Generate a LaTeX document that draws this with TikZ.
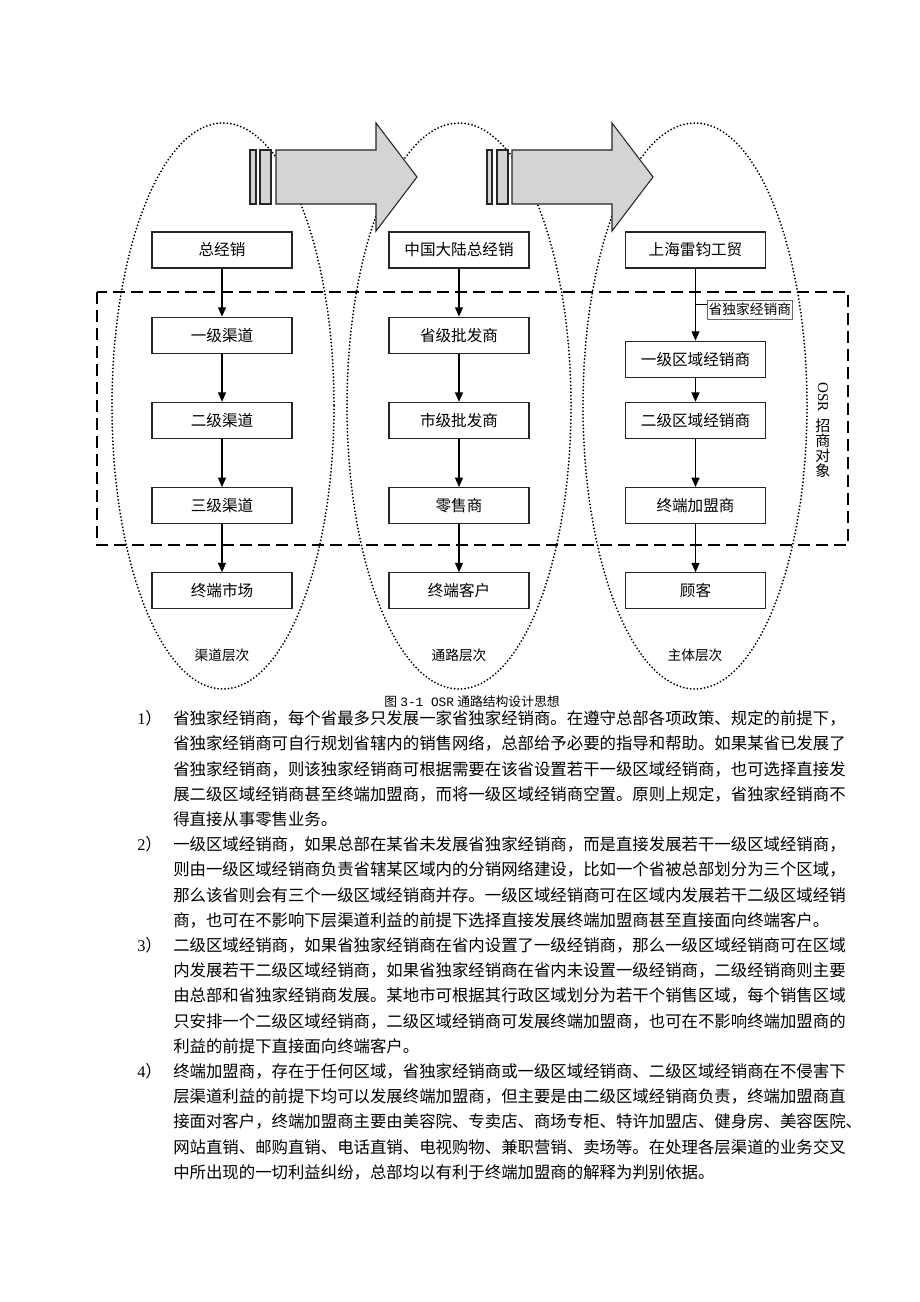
\documentclass[tikz,border=0pt]{standalone}
\usepackage{fontspec}
\setmainfont{Liberation Serif}
\newfontfamily\cjk{Noto Sans CJK SC}
\newfontfamily\latmono{Liberation Mono}
\usetikzlibrary{positioning,arrows.meta}

\begin{document}
\begin{tikzpicture}[x=0.75pt,y=-0.75pt,node distance=36pt,
  box/.style={draw=black!85,line width=0.9pt,fill=white,minimum width=105pt,minimum height=27pt,inner sep=0pt,font=\cjk\fontsize{11.7pt}{14pt}\selectfont},
  link/.style={line width=0.9pt,-{Triangle[length=7pt,width=6pt]}},
  layer/.style={line width=1.5pt,line cap=round,dash pattern=on 0pt off 2.6pt},
  bigarrow/.style={draw=black!85,line width=0.8pt,fill=black!17},
  para/.style={anchor=north west,align=left,inner sep=0pt,font=\cjk\fontsize{12.3pt}{18.9pt}\selectfont},
  num/.style={anchor=west,inner sep=0pt,font=\cjk\fontsize{12.3pt}{18.9pt}\selectfont}]
  \useasboundingbox (0,0) rectangle (920,1302);
  \fill[white] (0,0) rectangle (920,1302);

  \draw[layer] (223,406) ellipse [x radius=111,y radius=283];
  \draw[layer] (459,406) ellipse [x radius=112,y radius=283];
  \draw[layer] (695,406) ellipse [x radius=112,y radius=283];

  \draw[line width=1.7pt,dash pattern=on 9pt off 4.5pt] (97,292) rectangle (848,545);

  \draw[bigarrow] (250,150) rectangle (256,204);
  \draw[bigarrow] (260,150) rectangle (271,204);
  \draw[bigarrow] (276,150) -- (376,150) -- (376,123) -- (417,177) -- (376,231) -- (376,204) -- (276,204) -- cycle;
  \draw[bigarrow] (487,150) rectangle (492,204);
  \draw[bigarrow] (497,150) rectangle (508,204);
  \draw[bigarrow] (512,150) -- (612,150) -- (612,123) -- (653,177) -- (612,231) -- (612,204) -- (512,204) -- cycle;

  \node[box] (qd1) at (222,250) {总经销};
  \node[box,below=of qd1] (qd2) {一级渠道};
  \node[box,below=of qd2] (qd3) {二级渠道};
  \node[box,below=of qd3] (qd4) {三级渠道};
  \node[box,below=of qd4] (qd5) {终端市场};

  \node[box] (tl1) at (459,250) {中国大陆总经销};
  \node[box,below=of tl1] (tl2) {省级批发商};
  \node[box,below=of tl2] (tl3) {市级批发商};
  \node[box,below=of tl3] (tl4) {零售商};
  \node[box,below=of tl4] (tl5) {终端客户};

  \node[box] (zt1) at (695.5,250) {上海雷钧工贸};
  \node[box,below=54pt of zt1] (zt2) {一级区域经销商};
  \node[box,below=18pt of zt2] (zt3) {二级区域经销商};
  \node[box,below=of zt3] (zt4) {终端加盟商};
  \node[box,below=of zt4] (zt5) {顾客};

  \draw[link] (qd1) -- (qd2);
  \draw[link] (qd2) -- (qd3);
  \draw[link] (qd3) -- (qd4);
  \draw[link] (qd4) -- (qd5);
  \draw[link] (tl1) -- (tl2);
  \draw[link] (tl2) -- (tl3);
  \draw[link] (tl3) -- (tl4);
  \draw[link] (tl4) -- (tl5);
  \draw[link] (zt1) -- (zt2);
  \draw[link] (zt2) -- (zt3);
  \draw[link] (zt3) -- (zt4);
  \draw[link] (zt4) -- (zt5);

  \node[draw=black!60,line width=0.5pt,inner xsep=1pt,inner ysep=0pt,minimum height=14pt,anchor=west,font=\cjk\fontsize{10.3pt}{12pt}\selectfont] (sdj) at (707,309.5) {省独家经销商};
  \coordinate (tick) at (695.5,304);
  \draw[line width=0.6pt] (tick) -- (tick -| sdj.west);

  \node[rotate=-90,anchor=west,inner sep=0pt,font=\fontsize{11.3pt}{13pt}\selectfont] (osr) at (823,382) {OSR};
  \node[anchor=north,align=center,inner sep=0pt,font=\cjk\fontsize{11.3pt}{11.3pt}\selectfont] (zsdx) at ([yshift=-5pt]osr.east) {招\\商\\对\\象};

  \node[font=\cjk\fontsize{10.3pt}{12pt}\selectfont] (cc1) at (222,655) {渠道层次};
  \node[font=\cjk\fontsize{10.3pt}{12pt}\selectfont] (cc2) at (459,655) {通路层次};
  \node[font=\cjk\fontsize{10.3pt}{12pt}\selectfont] (cc3) at (695,655) {主体层次};

  \node[font=\fontsize{9.6pt}{12pt}\selectfont] (cap) at (472,702) {{\cjk 图} {\latmono 3-1 OSR} {\cjk 通路结构设计思想}};

  \node[num] (n1) at (137,718) {{\rmfamily 1}）};
  \node[para] (p1) at (173,710.5) {省独家经销商，每个省最多只发展一家省独家经销商。在遵守总部各项政策、规定的前提下，\\
    省独家经销商可自行规划省辖内的销售网络，总部给予必要的指导和帮助。如果某省已发展了\\
    省独家经销商，则该独家经销商可根据需要在该省设置若干一级区域经销商，也可选择直接发\\
    展二级区域经销商甚至终端加盟商，而将一级区域经销商空置。原则上规定，省独家经销商不\\
    得直接从事零售业务。};
  \node[num] (n2) at (137,844) {{\rmfamily 2}）};
  \node[para] (p2) at (173,836.5) {一级区域经销商，如果总部在某省未发展省独家经销商，而是直接发展若干一级区域经销商，\\
    则由一级区域经销商负责省辖某区域内的分销网络建设，比如一个省被总部划分为三个区域，\\
    那么该省则会有三个一级区域经销商并存。一级区域经销商可在区域内发展若干二级区域经销\\
    商，也可在不影响下层渠道利益的前提下选择直接发展终端加盟商甚至直接面向终端客户。};
  \node[num] (n3) at (137,944.8) {{\rmfamily 3}）};
  \node[para] (p3) at (173,937.3) {二级区域经销商，如果省独家经销商在省内设置了一级经销商，那么一级区域经销商可在区域\\
    内发展若干二级区域经销商，如果省独家经销商在省内未设置一级经销商，二级经销商则主要\\
    由总部和省独家经销商发展。某地市可根据其行政区域划分为若干个销售区域，每个销售区域\\
    只安排一个二级区域经销商，二级区域经销商可发展终端加盟商，也可在不影响终端加盟商的\\
    利益的前提下直接面向终端客户。};
  \node[num] (n4) at (137,1070.8) {{\rmfamily 4}）};
  \node[para] (p4) at (173,1063.3) {终端加盟商，存在于任何区域，省独家经销商或一级区域经销商、二级区域经销商在不侵害下\\
    层渠道利益的前提下均可以发展终端加盟商，但主要是由二级区域经销商负责，终端加盟商直\\
    接面对客户，终端加盟商主要由美容院、专卖店、商场专柜、特许加盟店、健身房、美容医院、\\
    网站直销、邮购直销、电话直销、电视购物、兼职营销、卖场等。在处理各层渠道的业务交叉\\
    中所出现的一切利益纠纷，总部均以有利于终端加盟商的解释为判别依据。};
\end{tikzpicture}
\end{document}
